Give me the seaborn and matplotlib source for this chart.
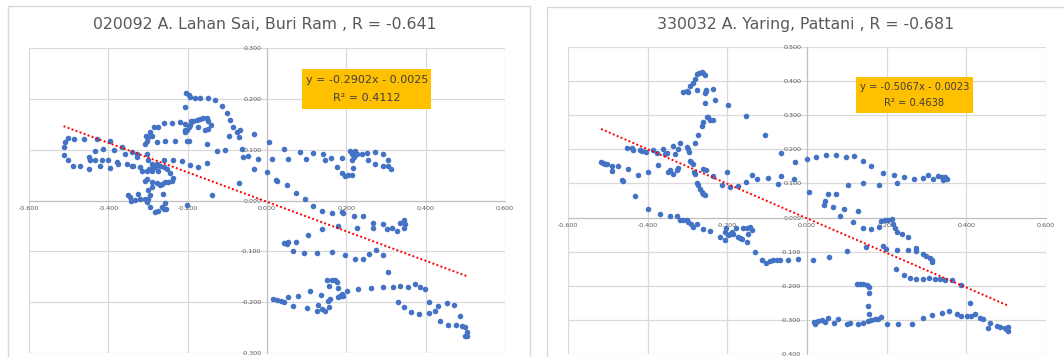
import matplotlib
matplotlib.use("Agg")
import matplotlib.pyplot as plt
import matplotlib.patches as patches
import matplotlib.ticker as ticker
import numpy as np
import pandas as pd
import seaborn as sns

# ---- left chart: 020092 A. Lahan Sai, Buri Ram ----
left_title = "020092 A. Lahan Sai, Buri Ram , R = -0.641"
left_eq = "y = -0.2902x - 0.0025"
left_r2 = "R² = 0.4112"
left_slope, left_icpt = -0.2902, -0.0025
left_x = [-0.513, -0.509, -0.501, -0.487, -0.461, -0.429, -0.396, -0.366, -0.341, -0.329,
          -0.512, -0.503, -0.488, -0.471, -0.448, -0.450, -0.446, -0.434, -0.434, -0.421,
          -0.413, -0.417, -0.400, -0.396, -0.387, -0.379, -0.375, -0.358, -0.354, -0.341,
          -0.337, -0.329, -0.320, -0.316, -0.303, -0.308, -0.303, -0.306, -0.299, -0.295,
          -0.291, -0.285, -0.274, -0.261, -0.240, -0.219, -0.207, -0.203, -0.198, -0.192,
          -0.186, -0.177, -0.169, -0.161, -0.152, -0.148, -0.142, -0.148, -0.156, -0.173,
          -0.194, -0.207, -0.207, -0.203, -0.196, -0.152, -0.152, -0.173, -0.194, -0.215,
          -0.236, -0.261, -0.278, -0.257, -0.232, -0.299, -0.291, -0.287, -0.282, -0.278,
          -0.270, -0.274, -0.261, -0.253, -0.245, -0.291, -0.297, -0.303, -0.207, -0.204,
          -0.198, -0.194, -0.182, -0.169, -0.150, -0.131, -0.114, -0.102, -0.093, -0.085,
          -0.075, -0.068, -0.072, -0.097, -0.125, -0.106, -0.064, -0.061, -0.047, -0.033,
          -0.032, -0.022, -0.001, 0.005, 0.012, 0.023, 0.043, 0.054, 0.082, 0.098,
          0.117, 0.140, 0.146, 0.161, 0.177, 0.188, 0.197, 0.205, 0.213, 0.188,
          0.209, 0.213, 0.218, 0.218, 0.222, 0.226, 0.213, 0.216, 0.239, 0.251,
          0.255, 0.272, 0.272, 0.293, 0.293, 0.306, 0.306, 0.312, -0.303, -0.236,
          -0.308, -0.291, -0.278, -0.270, -0.266, -0.257, -0.249, -0.240, -0.291, -0.299,
          -0.295, -0.299, -0.303, -0.295, -0.282, -0.274, -0.266, -0.257, -0.255, -0.261,
          -0.263, -0.350, -0.345, -0.343, -0.333, -0.326, -0.320, -0.308, -0.203, -0.139,
          -0.070, 0.024, 0.050, 0.073, 0.096, 0.117, 0.138, 0.163, 0.188, 0.218,
          0.243, 0.268, 0.268, 0.293, 0.302, 0.314, 0.327, 0.334, 0.344, 0.348,
          0.344, 0.138, 0.180, 0.192, 0.226, 0.104, 0.043, 0.050, 0.054, 0.073,
          0.066, 0.092, 0.127, 0.163, 0.197, 0.222, 0.243, 0.258, 0.275, 0.292,
          0.306, 0.016, 0.024, 0.034, 0.043, 0.053, 0.079, 0.107, 0.136, 0.129,
          0.125, 0.138, 0.146, 0.155, 0.153, 0.159, 0.155, 0.152, 0.163, 0.171,
          0.176, 0.180, 0.184, 0.188, 0.192, 0.180, 0.201, 0.230, 0.261, 0.292,
          0.318, 0.335, 0.356, 0.373, 0.386, 0.398, 0.331, 0.344, 0.363, 0.384,
          0.409, 0.424, 0.409, 0.432, 0.453, 0.472, 0.436, 0.457, 0.476, 0.487,
          0.491, 0.499, 0.503, 0.499, 0.505, 0.065, 0.100]
left_y = [0.105, 0.115, 0.123, 0.121, 0.121, 0.121, 0.118, 0.106, 0.095, 0.091,
          0.089, 0.079, 0.069, 0.069, 0.062, 0.085, 0.079, 0.079, 0.098, 0.068,
          0.102, 0.080, 0.079, 0.064, 0.100, 0.075, 0.072, 0.091, 0.072, 0.069,
          0.069, 0.085, 0.066, 0.059, 0.092, 0.112, 0.118, 0.128, 0.125, 0.135,
          0.128, 0.144, 0.144, 0.152, 0.152, 0.154, 0.150, 0.139, 0.144, 0.156,
          0.157, 0.159, 0.161, 0.163, 0.163, 0.157, 0.148, 0.141, 0.138, 0.144,
          0.148, 0.138, 0.135, 0.118, 0.117, 0.112, 0.073, 0.066, 0.070, 0.077,
          0.079, 0.079, 0.115, 0.118, 0.118, 0.079, 0.072, 0.069, 0.066, 0.072,
          0.069, 0.059, 0.066, 0.062, 0.054, 0.059, 0.062, 0.059, 0.184, 0.211,
          0.207, 0.203, 0.201, 0.201, 0.202, 0.197, 0.187, 0.173, 0.159, 0.144,
          0.135, 0.139, 0.125, 0.127, 0.097, 0.100, 0.102, 0.085, 0.087, 0.131,
          0.062, 0.082, 0.056, 0.115, 0.082, 0.041, 0.102, 0.082, 0.096, 0.082,
          0.094, 0.092, 0.079, 0.084, 0.066, 0.055, 0.049, 0.051, 0.051, 0.084,
          0.098, 0.092, 0.095, 0.085, 0.097, 0.092, 0.079, 0.064, 0.091, 0.093,
          0.080, 0.095, 0.071, 0.091, 0.069, 0.079, 0.068, 0.062, 0.043, 0.044,
          0.039, 0.036, 0.034, 0.030, 0.033, 0.036, 0.037, 0.039, 0.026, 0.020,
          0.010, 0.003, -0.003, -0.013, -0.023, -0.020, -0.012, -0.005, -0.017, -0.016,
          0.013, 0.010, 0.007, 0.000, 0.001, 0.013, 0.003, 0.003, -0.008, 0.010,
          0.034, 0.039, 0.030, 0.015, 0.003, -0.010, -0.021, -0.025, -0.023, -0.031,
          -0.031, -0.045, -0.054, -0.047, -0.056, -0.054, -0.059, -0.045, -0.039, -0.046,
          -0.054, -0.056, -0.051, -0.025, -0.054, -0.068, -0.083, -0.085, -0.082, -0.081,
          -0.100, -0.103, -0.104, -0.102, -0.108, -0.115, -0.115, -0.106, -0.098, -0.108,
          -0.141, -0.194, -0.195, -0.197, -0.200, -0.189, -0.187, -0.177, -0.185, -0.205,
          -0.217, -0.213, -0.217, -0.210, -0.197, -0.194, -0.169, -0.157, -0.156, -0.157,
          -0.161, -0.173, -0.187, -0.184, -0.188, -0.190, -0.177, -0.174, -0.173, -0.171,
          -0.171, -0.169, -0.171, -0.164, -0.171, -0.175, -0.199, -0.210, -0.219, -0.223,
          -0.222, -0.217, -0.200, -0.207, -0.201, -0.205, -0.238, -0.244, -0.245, -0.228,
          -0.246, -0.249, -0.259, -0.266, -0.266, -0.208, -0.211]

# ---- right chart: 330032 A. Yaring, Pattani ----
right_title = "330032 A. Yaring, Pattani , R = -0.681"
right_eq = "y = -0.5067x - 0.0023"
right_r2 = "R² = 0.4638"
right_slope, right_icpt = -0.5067, -0.0023
right_x = [-0.517, -0.513, -0.507, -0.503, -0.490, -0.474, -0.449, -0.490, -0.453, -0.440,
           -0.436, -0.419, -0.415, -0.403, -0.386, -0.377, -0.361, -0.356, -0.352, -0.337,
           -0.331, -0.319, -0.323, -0.302, -0.298, -0.295, -0.294, -0.290, -0.285, -0.281,
           -0.273, -0.264, -0.260, -0.252, -0.248, -0.244, -0.237, -0.256, -0.231, -0.254,
           -0.254, -0.235, -0.275, -0.270, -0.264, -0.260, -0.256, -0.281, -0.285, -0.294,
           -0.302, -0.310, -0.298, -0.277, -0.256, -0.197, -0.153, -0.105, -0.064, -0.030,
           -0.001, 0.024, 0.049, 0.073, 0.098, 0.118, 0.140, 0.162, 0.190, 0.218,
           0.244, 0.269, 0.292, 0.305, 0.317, 0.330, 0.338, 0.346, 0.351, 0.342,
           -0.423, -0.398, -0.373, -0.348, -0.344, -0.336, -0.327, -0.323, -0.284, -0.281,
           -0.260, -0.254, -0.235, -0.200, -0.139, -0.126, -0.097, -0.066, -0.032, -0.465,
           -0.463, -0.432, -0.398, -0.369, -0.344, -0.327, -0.319, -0.310, -0.302, -0.298,
           -0.290, -0.285, -0.277, -0.262, -0.244, -0.277, -0.273, -0.269, -0.264, -0.260,
           -0.256, -0.214, -0.193, -0.172, -0.153, -0.072, -0.218, -0.206, -0.206, -0.203,
           -0.197, -0.193, -0.189, -0.185, -0.177, -0.172, -0.168, -0.164, -0.160, -0.150,
           -0.147, -0.143, -0.139, -0.150, -0.131, -0.114, -0.103, -0.093, -0.085, -0.076,
           -0.068, -0.047, -0.022, 0.014, 0.056, 0.006, 0.054, 0.045, 0.043, 0.066,
           0.074, 0.083, 0.093, 0.104, 0.116, 0.129, 0.140, 0.141, 0.162, 0.182,
           0.225, 0.182, 0.187, 0.196, 0.204, 0.213, 0.217, 0.221, 0.225, 0.238,
           0.254, 0.100, 0.148, 0.190, 0.198, 0.225, 0.254, 0.275, 0.275, 0.292,
           0.300, 0.309, 0.313, 0.313, 0.223, 0.244, 0.259, 0.275, 0.292, 0.307,
           0.321, 0.334, 0.346, 0.363, 0.386, 0.126, 0.133, 0.141, 0.150, 0.156,
           0.156, 0.154, 0.156, 0.020, 0.018, 0.028, 0.037, 0.045, 0.054, 0.069,
           0.079, 0.101, 0.108, 0.129, 0.140, 0.154, 0.162, 0.171, 0.179, 0.187,
           0.200, 0.229, 0.263, 0.292, 0.315, 0.338, 0.357, 0.376, 0.388, 0.401,
           0.411, 0.409, 0.422, 0.434, 0.443, 0.455, 0.459, 0.476, 0.485, 0.497,
           0.501, 0.504, 0.505]
right_y = [0.163, 0.160, 0.158, 0.156, 0.152, 0.152, 0.141, 0.137, 0.204, 0.204,
           0.197, 0.199, 0.195, 0.193, 0.197, 0.188, 0.200, 0.185, 0.190, 0.209,
           0.186, 0.219, 0.202, 0.207, 0.202, 0.193, 0.166, 0.163, 0.156, 0.219,
           0.241, 0.268, 0.281, 0.295, 0.295, 0.287, 0.285, 0.336, 0.344, 0.375,
           0.371, 0.376, 0.420, 0.424, 0.427, 0.424, 0.417, 0.405, 0.393, 0.385,
           0.371, 0.369, 0.369, 0.373, 0.364, 0.329, 0.297, 0.241, 0.188, 0.163,
           0.171, 0.178, 0.183, 0.183, 0.178, 0.180, 0.165, 0.152, 0.132, 0.124,
           0.119, 0.114, 0.117, 0.126, 0.114, 0.122, 0.119, 0.119, 0.114, 0.111,
           0.126, 0.134, 0.153, 0.134, 0.139, 0.129, 0.139, 0.144, 0.134, 0.129,
           0.141, 0.139, 0.121, 0.134, 0.126, 0.114, 0.116, 0.122, 0.112, 0.111,
           0.107, 0.063, 0.026, 0.010, 0.004, 0.004, -0.006, -0.006, -0.008, -0.013,
           -0.018, -0.027, -0.020, -0.035, -0.040, 0.100, 0.095, 0.085, 0.075, 0.070,
           0.067, 0.095, 0.090, 0.092, 0.105, 0.098, -0.057, -0.065, -0.042, -0.032,
           -0.052, -0.047, -0.042, -0.049, -0.032, -0.057, -0.059, -0.062, -0.032, -0.032,
           -0.047, -0.027, -0.037, -0.071, -0.101, -0.123, -0.133, -0.127, -0.125, -0.123,
           -0.123, -0.123, -0.122, -0.125, -0.117, 0.075, 0.070, 0.049, 0.036, 0.031,
           0.070, 0.004, 0.026, 0.095, -0.013, 0.020, 0.102, -0.030, -0.035, 0.095,
           0.100, -0.027, -0.010, -0.008, -0.006, -0.005, -0.018, -0.032, -0.042, -0.049,
           -0.057, -0.098, -0.086, -0.084, -0.091, -0.094, -0.096, -0.088, -0.098, -0.108,
           -0.113, -0.118, -0.125, -0.131, -0.152, -0.167, -0.177, -0.181, -0.181, -0.177,
           -0.179, -0.179, -0.184, -0.182, -0.198, -0.194, -0.195, -0.196, -0.198, -0.203,
           -0.221, -0.259, -0.283, -0.311, -0.306, -0.303, -0.301, -0.306, -0.294, -0.308,
           -0.296, -0.311, -0.308, -0.311, -0.309, -0.304, -0.299, -0.296, -0.298, -0.293,
           -0.313, -0.313, -0.311, -0.294, -0.286, -0.280, -0.275, -0.282, -0.288, -0.288,
           -0.288, -0.250, -0.282, -0.294, -0.296, -0.324, -0.308, -0.318, -0.321, -0.324,
           -0.327, -0.333, -0.321]

DOT = "#4472C4"
GRID = "#d9d9d9"
AXIS = "#bfbfbf"
TXT = "#595959"

sns.set_style("white")
plt.rcParams["font.family"] = ["DejaVu Sans"]

fig = plt.figure(figsize=(10.64, 3.57), dpi=100)

# chart area borders
fig.add_artist(patches.Rectangle((0.0075, -0.02), 0.4906, 1.003, transform=fig.transFigure,
                                 fill=False, edgecolor=GRID, linewidth=1.0))
fig.add_artist(patches.Rectangle((0.514, -0.02), 0.49, 1.0, transform=fig.transFigure,
                                 fill=False, edgecolor=GRID, linewidth=1.0))


def draw(rect, xs, ys, title, title_x, eq, r2, slope, icpt, ylim, box, eq_size):
    ax = fig.add_axes(rect)
    df = pd.DataFrame({"x": xs, "y": ys})
    sns.scatterplot(data=df, x="x", y="y", ax=ax, color=DOT, s=16, linewidth=0, zorder=3)
    # linear trendline over data range
    tx = np.array([df.x.min(), df.x.max()])
    sns.lineplot(x=tx, y=slope * tx + icpt, ax=ax, color="red",
                 linestyle=(0, (1, 1.2)), linewidth=1.4, zorder=4)
    ax.set_xlim(-0.6, 0.6)
    ax.set_ylim(*ylim)
    ax.xaxis.set_major_locator(ticker.MultipleLocator(0.2))
    ax.yaxis.set_major_locator(ticker.MultipleLocator(0.1))
    fmt = ticker.FormatStrFormatter("%.3f")
    ax.xaxis.set_major_formatter(fmt)
    ax.yaxis.set_major_formatter(fmt)
    ax.grid(True, color=GRID, linewidth=0.9)
    ax.set_axisbelow(True)
    for s in ["top", "right"]:
        ax.spines[s].set_visible(False)
    ax.spines["left"].set_position("zero")
    ax.spines["bottom"].set_position("zero")
    ax.spines["left"].set_color(AXIS)
    ax.spines["bottom"].set_color(AXIS)
    ax.spines["left"].set_zorder(2)
    ax.tick_params(length=0, labelsize=4.6, labelcolor=TXT, pad=4)
    ax.set_xlabel("")
    ax.set_ylabel("")
    fig.text(title_x, 0.93, title, ha="center", va="center", fontsize=11.3, color=TXT)
    # equation label box
    bx0, by0, bw, bh = box
    ax.add_patch(patches.Rectangle((bx0, by0), bw, bh, transform=ax.transAxes,
                                   facecolor="#FFC000", edgecolor="none", zorder=5))
    cx = bx0 + bw / 2
    ax.text(cx, by0 + bh * 0.72, eq, transform=ax.transAxes, ha="center", va="center",
            fontsize=eq_size, color="#404040", zorder=6)
    ax.text(cx, by0 + bh * 0.28, r2, transform=ax.transAxes, ha="center", va="center",
            fontsize=eq_size, color="#404040", zorder=6)
    return ax


draw([0.0273, 0.0112, 0.4474, 0.854], left_x, left_y, left_title, 0.249,
     left_eq, left_r2, left_slope, left_icpt, (-0.3, 0.3),
     (0.574, 0.80, 0.271, 0.131), 8.0)
draw([0.5338, 0.0084, 0.4492, 0.860], right_x, right_y, right_title, 0.757,
     right_eq, right_r2, right_slope, right_icpt, (-0.4, 0.5),
     (0.603, 0.785, 0.244, 0.117), 7.2)

fig.savefig("out.png", dpi=100)
